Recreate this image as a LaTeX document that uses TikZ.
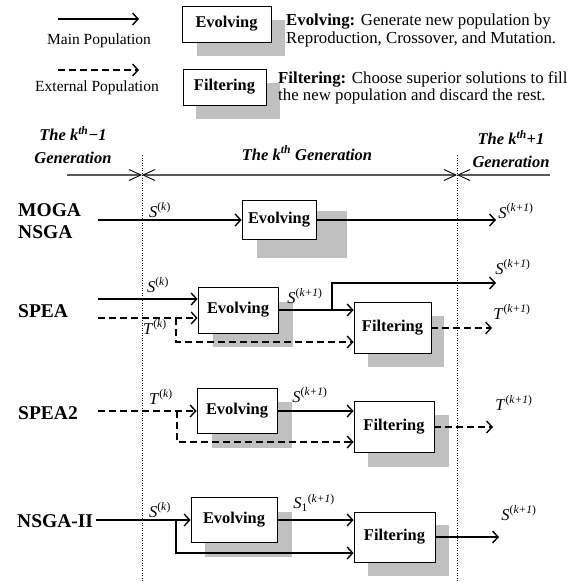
\documentclass[tikz,border=0pt]{standalone}
\usepackage{fontspec}
\setmainfont{Liberation Serif}
\usetikzlibrary{arrows.meta}
\definecolor{shadowgray}{RGB}{192,192,192}
\newcommand{\popl}[2]{\textit{#1}\textsuperscript{(\textit{#2})}}

\tikzset{
	box/.style={draw, line width=0.9pt, fill=white, inner sep=0pt, font=\fontsize{16.4}{18}\selectfont\bfseries},
	shade/.style={fill=shadowgray},
	mainpop/.style={->, line width=1.4pt},
	extpop/.style={mainpop, dash pattern=on 7pt off 4pt},
	pop/.style={font=\fontsize{16.5}{18}\selectfont, inner sep=0pt},
	algo/.style={font=\fontsize{19.5}{22}\selectfont\bfseries, anchor=west, align=left, inner sep=0pt},
	gen/.style={font=\fontsize{16.5}{23}\selectfont\bfseries\itshape, align=center, inner sep=0pt},
	legend/.style={font=\fontsize{15.5}{17}\selectfont, inner sep=0pt},
	note/.style={font=\fontsize{16.8}{17.5}\selectfont, anchor=west, align=left, inner sep=0pt},
	divider/.style={line width=0.8pt, dash pattern=on 1pt off 1.5pt},
	genline/.style={line width=2pt, black!65, >={Straight Barb[length=12pt,width=11pt,line width=0.9pt,black]}}
}

\begin{document}
\begin{tikzpicture}[x=1pt, y=-1pt, >={Straight Barb[length=5.5pt,width=12pt]}]
	\useasboundingbox (0,0) rectangle (568,581);

	% legend
	\coordinate (lg-sa) at (58,19);
	\coordinate (lg-sb) at (139,19);
	\coordinate (lg-ta) at (58,70);
	\coordinate (lg-tb) at (139,70);
	\draw[mainpop] (lg-sa) -- (lg-sb);
	\draw[extpop] (lg-ta) -- (lg-tb);
	\node[legend] (lg-main) at (99,41) {Main Population};
	\node[legend] (lg-ext) at (97,88) {External Population};
	\fill[shade] (197,20) rectangle (285,56);
	\fill[shade] (196,83) rectangle (280,119);
	\node[box, minimum width=89, minimum height=36] (lg-ev) at (226.5,24) {Evolving};
	\node[box, minimum width=83, minimum height=36] (lg-fi) at (224.5,87) {Filtering};
	\node[note] (lg-evtxt) at (286,30.5) {\textbf{Evolving:} Generate new population by\\Reproduction, Crossover, and Mutation.};
	\node[note] (lg-fitxt) at (278,88) {\textbf{Filtering:} Choose superior solutions to fill\\the new population and discard the rest.};

	% generations
	\node[gen] (gen-prev) at (73,145) {The k\textsuperscript{th}−1\\Generation};
	\node[gen] (gen-cur) at (307,153) {The k\textsuperscript{th} Generation};
	\node[gen] (gen-next) at (511,149) {The k\textsuperscript{th}+1\\Generation};
	\coordinate (gen-l) at (67,175);
	\coordinate (gen-a) at (142,175);
	\coordinate (gen-b) at (457,175);
	\coordinate (gen-r) at (550,175);
	\draw[divider] (142,155) -- (142,581);
	\draw[divider] (457,155) -- (457,581);
	\draw[genline, ->] (gen-l) -- (gen-a);
	\draw[genline, <->] (gen-a) -- (gen-b);
	\draw[genline, <-] (gen-b) -- (gen-r);

	% MOGA / NSGA
	\node[algo] (moga) at (18,221) {MOGA\\NSGA};
	\fill[shade] (257,211) rectangle (347,258);
	\node[box, minimum width=74, minimum height=39] (moga-ev) at (279,220) {Evolving};
	\coordinate (moga-a) at (98,220);
	\coordinate (moga-b) at (496,220);
	\draw[mainpop] (moga-a) -- (moga-a -| moga-ev.west);
	\draw[mainpop] (moga-ev.east) -- (moga-b);
	\node[pop] (moga-sk) at (160,210) {\popl{S}{k}};
	\node[pop] (moga-sk1) at (516,211) {\popl{S}{k+1}};

	% SPEA
	\node[algo] (spea) at (18,311) {SPEA};
	\fill[shade] (213,302) rectangle (293,347);
	\fill[shade] (368,316) rectangle (444,367);
	\node[box, minimum width=80, minimum height=46] (spea-ev) at (238,310) {Evolving};
	\node[box, minimum width=77, minimum height=51] (spea-fi) at (392.5,328) {Filtering};
	\coordinate (spea-s) at (98,299);
	\coordinate (spea-t) at (98,318);
	\coordinate (spea-tb) at (176,318);
	\coordinate (spea-tc) at (176,342);
	\coordinate (spea-br) at (332,310);
	\coordinate (spea-so) at (496,283);
	\coordinate (spea-to) at (492,328);
	\draw[mainpop] (spea-s) -- (spea-s -| spea-ev.west);
	\draw[extpop] (spea-t) -- (spea-t -| spea-ev.west);
	\draw[extpop] (spea-tb) -- (spea-tc) -- (spea-tc -| spea-fi.west);
	\draw[mainpop] (spea-ev.east) -- (spea-ev.east -| spea-fi.west);
	\draw[mainpop] (spea-br) |- (spea-so);
	\draw[extpop] (spea-fi.east) -- (spea-to);
	\node[pop] (spea-sk) at (158,285) {\popl{S}{k}};
	\node[pop] (spea-tk) at (155,327) {\popl{T}{k}};
	\node[pop] (spea-sm) at (305,296) {\popl{S}{k+1}};
	\node[pop] (spea-sk1) at (513,267) {\popl{S}{k+1}};
	\node[pop] (spea-tk1) at (512,312) {\popl{T}{k+1}};

	% SPEA2
	\node[algo] (spea2) at (18,413) {SPEA2};
	\fill[shade] (212,402) rectangle (292,448);
	\fill[shade] (368,415) rectangle (449,467);
	\node[box, minimum width=80, minimum height=45] (spea2-ev) at (237,411) {Evolving};
	\node[box, minimum width=80, minimum height=51] (spea2-fi) at (394,427) {Filtering};
	\coordinate (spea2-t) at (98,411);
	\coordinate (spea2-tb) at (177,411);
	\coordinate (spea2-tc) at (177,442);
	\coordinate (spea2-to) at (493,427);
	\draw[extpop] (spea2-t) -- (spea2-t -| spea2-ev.west);
	\draw[extpop] (spea2-tb) -- (spea2-tc) -- (spea2-tc -| spea2-fi.west);
	\draw[mainpop] (spea2-ev.east) -- (spea2-ev.east -| spea2-fi.west);
	\draw[extpop] (spea2-fi.east) -- (spea2-to);
	\node[pop] (spea2-tk) at (161,397) {\popl{T}{k}};
	\node[pop] (spea2-sm) at (310,395) {\popl{S}{k+1}};
	\node[pop] (spea2-tk1) at (514,403) {\popl{T}{k+1}};

	% NSGA-II
	\node[algo] (nsga2) at (17,521) {NSGA-II};
	\fill[shade] (205,512) rectangle (292,557);
	\fill[shade] (368,525) rectangle (449,576);
	\node[box, minimum width=86, minimum height=45] (nsga2-ev) at (234,520) {Evolving};
	\node[box, minimum width=81, minimum height=50] (nsga2-fi) at (394.5,537) {Filtering};
	\coordinate (nsga2-a) at (96,520);
	\coordinate (nsga2-br) at (176,520);
	\coordinate (nsga2-bc) at (176,553);
	\coordinate (nsga2-so) at (499,537);
	\draw[mainpop] (nsga2-a) -- (nsga2-a -| nsga2-ev.west);
	\draw[mainpop] (nsga2-br) -- (nsga2-bc) -- (nsga2-bc -| nsga2-fi.west);
	\draw[mainpop] (nsga2-ev.east) -- (nsga2-ev.east -| nsga2-fi.west);
	\draw[mainpop] (nsga2-fi.east) -- (nsga2-so);
	\node[pop] (nsga2-sk) at (160,510) {\popl{S}{k}};
	\node[pop] (nsga2-sm) at (314,503) {\textit{S}\textsubscript{1}\textsuperscript{(\textit{k+1})}};
	\node[pop] (nsga2-sk1) at (519,513) {\popl{S}{k+1}};
\end{tikzpicture}
\end{document}
